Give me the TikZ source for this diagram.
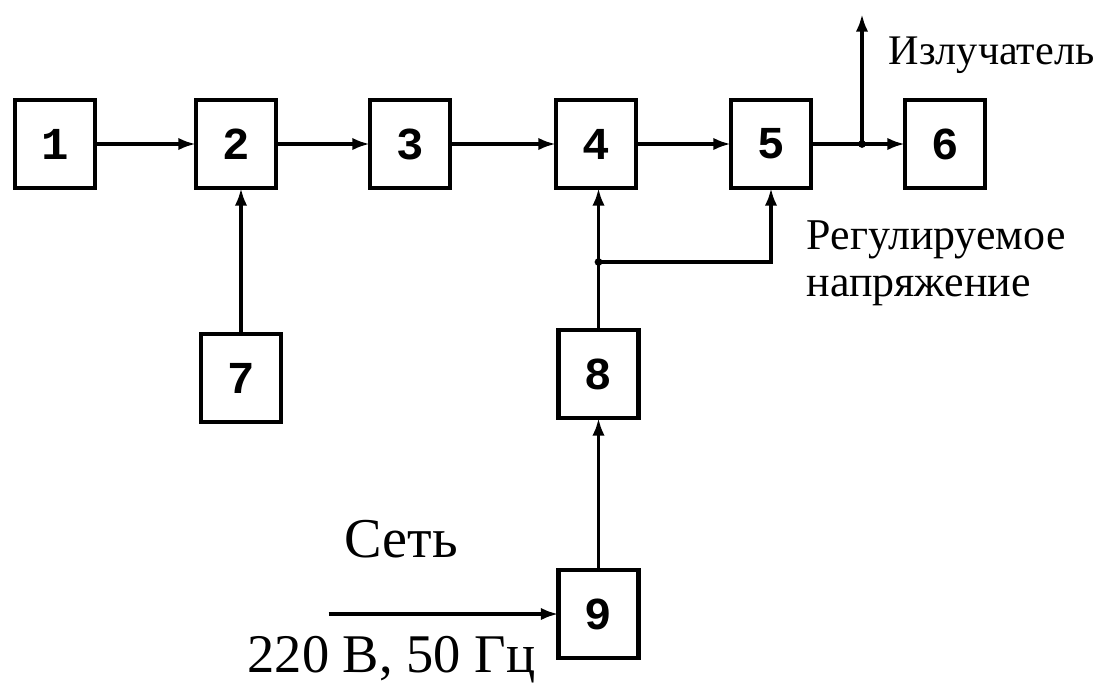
\documentclass[tikz,border=0pt]{standalone}
\usepackage{fontspec}
\setmainfont{Liberation Serif}
\newfontfamily\boxfont{Liberation Mono}
\usetikzlibrary{positioning,arrows.meta}

\begin{document}
\begin{tikzpicture}[>={Latex[length=10pt,width=7pt]},node distance=2cm and 2cm,line width=2pt,
  blk/.style={draw,line width=2.6pt,minimum width=1.6cm,minimum height=1.76cm,inner sep=0pt,outer sep=0pt,
    font=\boxfont\bfseries\fontsize{26}{28}\selectfont},
  lbl/.style={inner sep=0pt,font=\fontsize{24}{28}\selectfont},
  biglbl/.style={inner sep=0pt,font=\fontsize{32}{36}\selectfont}]
\useasboundingbox (0,0) rectangle (21.96,-13.68);
% main chain
\node[blk] (b1) at (1.1,-2.88) {1};
\node[blk] (b2) [right=2.02cm of b1] {2};
\node[blk] (b3) [right=1.88cm of b2] {3};
\node[blk] (b4) [right=2.12cm of b3] {4};
\node[blk] (b5) [right=1.9cm of b4] {5};
\node[blk] (b6) [right=1.88cm of b5] {6};
% lower blocks
\node[blk] (b7) [below=2.92cm of b2,xshift=0.1cm] {7};
\node[blk] (b8) [below=2.84cm of b4,xshift=0.05cm] {8};
\node[blk] (b9) [below=3.04cm of b8] {9};
\coordinate[right=1.02cm of b5.east] (j1);
\coordinate[above=2.6cm of j1] (emit);
\coordinate[below=1.48cm of b4.south] (br);
\coordinate[left=4.6cm of b9.west] (src);
\draw[->] (b1) -- (b2);
\draw[->] (b2) -- (b3);
\draw[->] (b3) -- (b4);
\draw[->] (b4) -- (b5);
\draw[->] (b5) -- (b6);
\draw[->] (j1) -- (emit);
\draw[->] (b7) -- (b7 |- b2.south);
\draw (b8) -- (b8 |- br);
\draw[->] (b8 |- br) -- (b8 |- b4.south);
\draw[->] (b8 |- br) -| (b5);
\draw[->] (b9) -- (b8);
\draw[->] (src) -- (b9);
\fill (b8 |- br) circle (2.2pt);
\fill (j1) circle (2.2pt);
% labels
\node[lbl,anchor=base west] (emitlbl) at (17.74,-1.28) {Излучатель};
\node[lbl,anchor=base west,font=\fontsize{25}{28}\selectfont] (reglbl) at (16.1,-4.98) {Регулируемое};
\node[lbl,anchor=base west,font=\fontsize{25}{28}\selectfont] (naplbl) at (16.1,-5.92) {напряжение};
\node[biglbl,anchor=base west] (netlbl) at (6.86,-11.14) {Сеть};
\node[biglbl,anchor=base east,font=\fontsize{31}{36}\selectfont] (voltlbl) at (10.74,-13.44) {220 В, 50 Гц};
\end{tikzpicture}
\end{document}
